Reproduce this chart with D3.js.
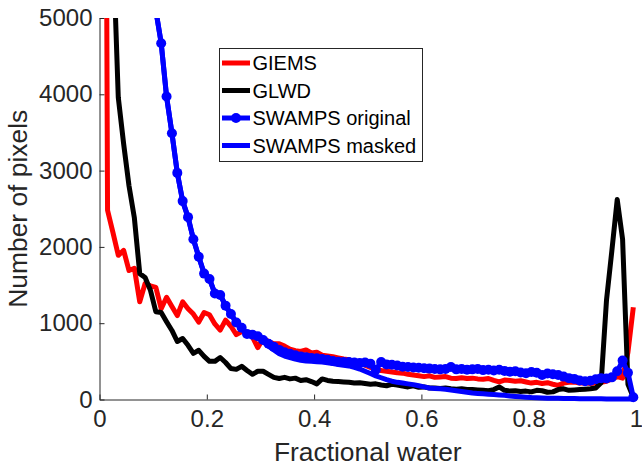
<!DOCTYPE html>
<html lang="en">
<head>
  <meta charset="UTF-8">
  <title>Fractional water histogram</title>
  <style>
    body { margin: 0; background: #fff; }
    svg { display: block; font-family: "Liberation Sans", Arial, Helvetica, sans-serif; }
    .axis path, .axis line { stroke: #262626; }
    .axis text { fill: #262626; font-size: 24px; }
  </style>
</head>
<body>
  <div id="chart"></div>
  <script src="https://d3js.org/d3.v7.min.js"></script>
  <script>
    const SVGWIDTH = 642;
    const SVGHEIGHT = 469;
    const margin = {top: 18, right: 6, bottom: 69.5, left: 99.5};
    const innerWidth = SVGWIDTH - margin.left - margin.right;
    const innerHeight = SVGHEIGHT - margin.top - margin.bottom;

    // histogram bin centres (fractional water)
    const bins = [
      0.005,0.015,0.025,0.035,0.045,0.055,0.065,0.075,0.085,0.095,
      0.105,0.115,0.125,0.135,0.145,0.155,0.165,0.175,0.185,0.195,
      0.205,0.215,0.225,0.235,0.245,0.255,0.265,0.275,0.285,0.295,
      0.305,0.315,0.325,0.335,0.345,0.355,0.365,0.375,0.385,0.395,
      0.405,0.415,0.425,0.435,0.445,0.455,0.465,0.475,0.485,0.495,
      0.505,0.515,0.525,0.535,0.545,0.555,0.565,0.575,0.585,0.595,
      0.605,0.615,0.625,0.635,0.645,0.655,0.665,0.675,0.685,0.695,
      0.705,0.715,0.725,0.735,0.745,0.755,0.765,0.775,0.785,0.795,
      0.805,0.815,0.825,0.835,0.845,0.855,0.865,0.875,0.885,0.895,
      0.905,0.915,0.925,0.935,0.945,0.955,0.965,0.975,0.985,0.995
    ];

    const giems = [
      20000,2480,2190,1890,1955,1690,1720,1280,1520,1490,
      1470,1190,1340,1220,1100,1280,1190,1120,1015,1140,
      1110,990,910,1040,960,850,890,880,820,680,
      800,760,730,730,700,660,640,630,650,610,
      620,580,570,560,545,530,520,500,480,450,
      420,400,380,370,360,350,345,330,320,310,
      300,310,290,295,300,280,275,285,275,280,
      270,265,275,250,230,255,250,240,245,230,
      215,225,210,220,200,185,215,225,230,215,
      220,210,215,225,240,270,300,280,620,1210
    ];

    const glwd = [
      40000,15000,6000,3960,3350,2800,2380,1650,1600,1430,
      1150,1140,1020,905,760,800,710,605,645,565,
      500,500,550,485,405,395,435,380,330,370,
      370,330,290,275,290,270,280,250,260,235,
      205,270,250,240,235,230,225,215,220,210,
      200,205,190,180,200,190,175,165,180,160,
      165,150,150,145,150,140,135,140,130,130,
      125,120,115,130,165,120,110,115,105,110,
      100,120,115,95,100,130,140,120,125,130,
      135,140,150,220,1300,1950,2620,2100,200,30
    ];

    const swampsOriginal = [
      60000,40000,25000,18000,14000,11000,9000,7600,6600,5900,
      5100,4670,3970,3490,2970,2600,2390,2100,1870,1650,
      1580,1390,1370,1230,1120,1010,940,860,850,830,
      780,730,690,650,620,600,580,565,555,545,
      540,530,520,505,495,490,490,485,480,485,
      470,390,490,460,455,445,430,425,420,415,
      410,405,400,395,400,425,395,400,390,395,
      400,385,390,380,390,375,365,370,355,345,
      360,350,320,340,330,320,300,280,270,250,
      240,245,265,280,275,290,370,510,350,30
    ];

    const swampsMasked = [
      60000,40000,25000,18000,14000,11000,9000,7600,6600,5900,
      5100,4670,3970,3490,2970,2600,2390,2100,1870,1650,
      1580,1390,1370,1230,1120,1010,930,860,840,810,
      760,700,650,600,570,550,530,515,505,500,
      495,490,480,470,460,450,440,420,400,370,
      340,310,285,260,240,225,215,205,195,180,
      165,150,145,140,135,125,115,105,95,85,
      80,75,70,65,60,55,45,40,35,30,
      25,22,20,18,16,15,14,13,12,11,
      10,10,9,9,8,8,7,7,6,5
    ];

    const seriesNames = ['GIEMS', 'GLWD', 'SWAMPS original', 'SWAMPS masked'];
    const xTickValues = [0, 0.2, 0.4, 0.6, 0.8, 1];
    const xTickLabels = ['0', '0.2', '0.4', '0.6', '0.8', '1'];
    const yTickValues = [0, 1000, 2000, 3000, 4000, 5000];
    const yTickLabels = ['0', '1000', '2000', '3000', '4000', '5000'];

    const series = [
      {name: seriesNames[0], values: giems, color: '#ff0000', marker: false},
      {name: seriesNames[1], values: glwd, color: '#000000', marker: false},
      {name: seriesNames[2], values: swampsOriginal, color: '#0000ff', marker: true},
      {name: seriesNames[3], values: swampsMasked, color: '#0000ff', marker: false}
    ];

    const xScale = d3.scaleLinear().domain([0, 1]).range([0, innerWidth]);
    const yScale = d3.scaleLinear().domain([0, 5000]).range([innerHeight, 0]);

    const svg = d3.select('#chart')
      .append('svg')
      .attr('width', SVGWIDTH)
      .attr('height', SVGHEIGHT);

    const mainCont = svg.append('g')
      .attr('transform', `translate(${margin.left},${margin.top})`);

    // clip only at the top of the axes (y = 5000)
    svg.append('defs').append('clipPath').attr('id', 'clip')
      .append('rect')
      .attr('x', -margin.left).attr('y', 0)
      .attr('width', SVGWIDTH).attr('height', innerHeight + margin.bottom);

    // axes
    const xAxis = d3.axisBottom(xScale)
      .tickValues(xTickValues)
      .tickFormat((d, i) => xTickLabels[i])
      .tickSizeInner(-5).tickSizeOuter(0).tickPadding(10);
    const yAxis = d3.axisLeft(yScale)
      .tickValues(yTickValues)
      .tickFormat((d, i) => yTickLabels[i])
      .tickSizeInner(-5).tickSizeOuter(0).tickPadding(7);

    mainCont.append('g').attr('class', 'axis')
      .attr('transform', `translate(0,${innerHeight})`)
      .call(xAxis);
    mainCont.append('g').attr('class', 'axis')
      .call(yAxis);

    // lines
    const plot = mainCont.append('g').attr('clip-path', 'url(#clip)');
    const line = d3.line()
      .x((d, i) => xScale(bins[i]))
      .y(d => yScale(d));

    series.forEach(s => {
      plot.append('path')
        .datum(s.values)
        .attr('fill', 'none')
        .attr('stroke', s.color)
        .attr('stroke-width', 5)
        .attr('stroke-linejoin', 'round')
        .attr('d', line);
      if (s.marker) {
        plot.selectAll(null)
          .data(s.values)
          .enter()
          .append('circle')
          .attr('cx', (d, i) => xScale(bins[i]))
          .attr('cy', d => yScale(d))
          .attr('r', 5)
          .attr('fill', s.color);
      }
    });

    // axis labels
    svg.append('text')
      .attr('x', margin.left + innerWidth / 2)
      .attr('y', 461)
      .attr('text-anchor', 'middle')
      .attr('font-size', 26.4)
      .attr('fill', '#262626')
      .text('Fractional water');
    svg.append('text')
      .attr('transform', `translate(27,${margin.top + innerHeight / 2}) rotate(-90)`)
      .attr('text-anchor', 'middle')
      .attr('font-size', 26.4)
      .attr('fill', '#262626')
      .text('Number of pixels');

    // legend
    const legend = svg.append('g').attr('transform', 'translate(219.5,48.5)');
    legend.append('rect')
      .attr('width', 203).attr('height', 113)
      .attr('fill', '#fff').attr('stroke', '#262626').attr('stroke-width', 1);
    series.forEach((s, i) => {
      const ly = 14.5 + i * 27.5;
      legend.append('line')
        .attr('x1', 2.5).attr('x2', 30.5).attr('y1', ly).attr('y2', ly)
        .attr('stroke', s.color).attr('stroke-width', 5);
      if (s.marker) {
        legend.append('circle').attr('cx', 16.5).attr('cy', ly).attr('r', 5).attr('fill', s.color);
      }
      legend.append('text')
        .attr('x', 33).attr('y', ly).attr('dy', '0.36em')
        .attr('font-size', 20).attr('fill', '#000')
        .text(s.name);
    });
  </script>
</body>
</html>
